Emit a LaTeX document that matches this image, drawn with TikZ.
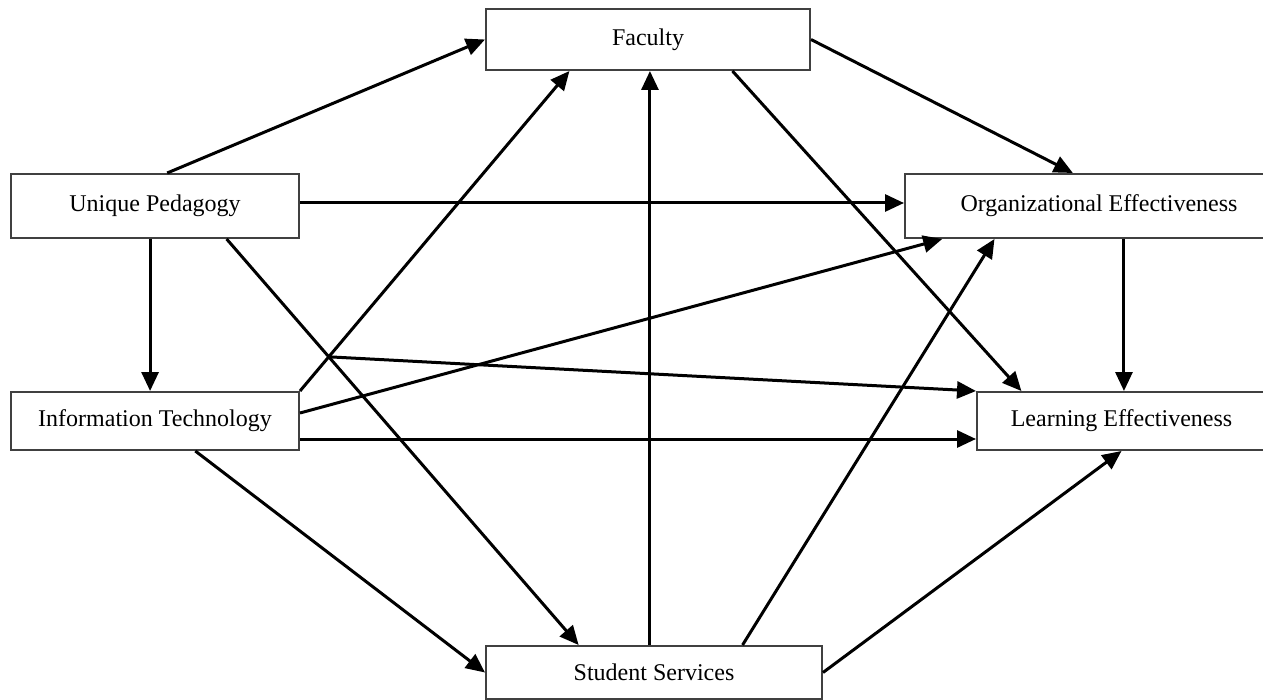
\documentclass[tikz,border=0pt]{standalone}
\usepackage{fontspec}
\setmainfont{Liberation Serif}
\usetikzlibrary{arrows.meta,calc}
\begin{document}
\begin{tikzpicture}[x=0.5pt,y=-0.5pt,
  box/.style={draw=black!75,line width=1pt,fill=white,rectangle,inner sep=0pt,font=\fontsize{12pt}{14pt}\selectfont},
  arr/.style={line width=1.5pt,-{Triangle[length=9.5pt,width=8.5pt]}},
  ln/.style={line width=1.5pt}]
\useasboundingbox (0,0) rectangle (1263,700);
\clip (0,0) rectangle (1263,700);
% boxes
\node[box,minimum width=162pt,minimum height=30.5pt] (fac) at (648,39.5) {Faculty};
\node[box,minimum width=144pt,minimum height=32pt] (up) at (155,206) {Unique Pedagogy};
\node[box,minimum width=144pt,minimum height=29pt] (it) at (155,421) {Information Technology};
\node[box,minimum width=194pt,minimum height=32pt] (oe) at (1099,206) {Organizational Effectiveness};
\node[box,minimum width=144.5pt,minimum height=29pt] (le) at (1121.5,421) {Learning Effectiveness};
\node[box,minimum width=168pt,minimum height=26.5pt] (ss) at (654,672.5) {Student Services};
% anchor points
\coordinate (u1) at ($(up.north west)!0.542!(up.north east)$);
\coordinate (u3) at ($(up.south west)!0.483!(up.south east)$);
\coordinate (i3) at ($(it.north west)!0.483!(it.north east)$);
\coordinate (u4) at ($(up.south west)!0.747!(up.south east)$);
\coordinate (s4) at ($(ss.north west)!0.277!(ss.north east)$);
\coordinate (f5) at ($(fac.south west)!0.259!(fac.south east)$);
\coordinate (o6) at ($(oe.south west)!0.098!(oe.south east)$);
\coordinate (x7) at (intersection of u4--s4 and it.north east--f5);
\coordinate (i9) at ($(it.south west)!0.639!(it.south east)$);
\coordinate (s10) at ($(ss.north west)!0.488!(ss.north east)$);
\coordinate (s11) at ($(ss.north west)!0.762!(ss.north east)$);
\coordinate (o11) at ($(oe.south west)!0.232!(oe.south east)$);
\coordinate (o13) at ($(oe.north west)!0.433!(oe.north east)$);
\coordinate (f14) at ($(fac.south west)!0.759!(fac.south east)$);
\coordinate (l14) at ($(le.north west)!0.156!(le.north east)$);
\coordinate (o15) at ($(oe.south west)!0.564!(oe.south east)$);
% connectors
\draw[arr] (u1) -- (fac.west);
\draw[arr] ([yshift=1.5pt]up.east) -- ([yshift=1.5pt]oe.west);
\draw[arr] (u3) -- (i3);
\draw[arr] (u4) -- (s4);
\draw[arr] (it.north east) -- (f5);
\draw[arr] ([yshift=4pt]it.east) -- (o6);
\draw[arr] (x7) -- (le.north west);
\draw[arr] ([yshift=-9pt]it.east) -- ([yshift=-9pt]le.west);
\draw[arr] (i9) -- (ss.west);
\draw[arr] (s10) -- (s10 |- fac.south);
\draw[arr] (s11) -- (o11);
\draw[arr] (ss.east) -- (le.south);
\draw[arr] (fac.east) -- (o13);
\draw[arr] (f14) -- (l14);
\draw[arr] (o15) -- (o15 |- le.north);
\end{tikzpicture}
\end{document}
